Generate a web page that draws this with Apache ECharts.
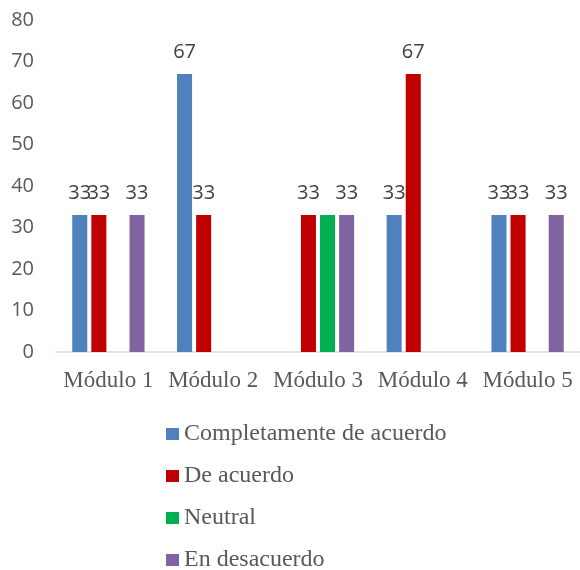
<!DOCTYPE html>
<html>
<head>
<meta charset="utf-8">
<script src="https://cdn.jsdelivr.net/npm/echarts@6/dist/echarts.min.js"></script>
<style>
  html, body { margin: 0; padding: 0; background: #fff; }
  #chart { width: 580px; height: 570px; }
</style>
</head>
<body>
<div id="chart"></div>
<script>
// datos (null = sin barra)
const modulos = ['Módulo 1', 'Módulo 2', 'Módulo 3', 'Módulo 4', 'Módulo 5'];
const completamente = [33, 67, null, 33, 33];
const deAcuerdo = [33, 33, 33, 67, 33];
const neutral = [null, null, 33, null, null];
const enDesacuerdo = [33, null, 33, null, 33];

const colores = ['#4F81BD', '#C00000', '#00B050', '#8064A2'];

const etiqueta = {
  show: true,
  position: 'top',
  distance: 12,
  fontFamily: 'Open Sans',
  fontSize: 20,
  color: '#404040'
};

const mkSerie = (name, data, conEtiqueta) => ({
  name: name,
  type: 'bar',
  data: data,
  barGap: '27%',
  barCategoryGap: '31%',
  label: Object.assign({}, etiqueta, { show: conEtiqueta })
});

const chart = echarts.init(document.getElementById('chart'));
chart.setOption({
  animation: false,
  color: colores,
  grid: {
    left: 56,
    top: 20,
    width: 528,
    bottom: 218,
    containLabel: false
  },
  legend: {
    orient: 'vertical',
    left: 161,
    top: 417,
    height: 160,
    itemWidth: 13,
    itemHeight: 12,
    itemGap: 18,
    icon: 'rect',
    textStyle: {
      fontFamily: 'Liberation Serif',
      fontSize: 24,
      color: '#595959'
    }
  },
  xAxis: {
    type: 'category',
    data: modulos,
    axisLine: { lineStyle: { color: '#D9D9D9', width: 1.5 } },
    axisTick: { show: false },
    axisLabel: {
      interval: 0,
      fontFamily: 'Liberation Serif',
      fontSize: 23,
      color: '#595959',
      margin: 17
    }
  },
  yAxis: {
    type: 'value',
    min: 0,
    max: 80,
    interval: 10,
    splitLine: { show: false },
    axisLine: { show: false },
    axisTick: { show: false },
    axisLabel: {
      fontFamily: 'Open Sans',
      fontSize: 20,
      color: '#595959',
      margin: 22
    }
  },
  series: [
    mkSerie('Completamente de acuerdo', completamente, true),
    mkSerie('De acuerdo', deAcuerdo, true),
    mkSerie('Neutral', neutral, false),
    mkSerie('En desacuerdo', enDesacuerdo, true)
  ]
});
</script>
</body>
</html>
